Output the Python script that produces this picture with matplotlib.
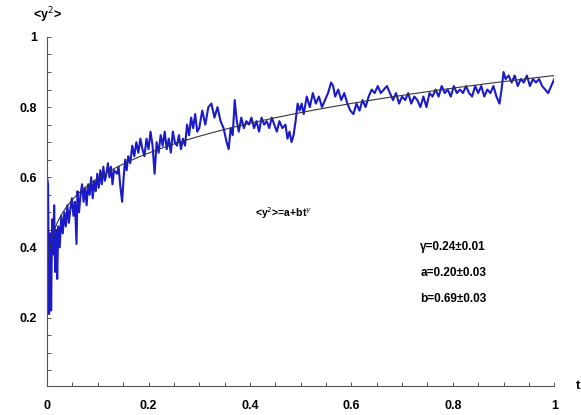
import matplotlib.pyplot as plt
import numpy as np
from matplotlib.ticker import MultipleLocator, FixedLocator

plt.rcParams['font.family'] = ['Liberation Sans', 'DejaVu Sans']

# noisy <y^2>(t)
t = [0.000, 0.002, 0.004, 0.006, 0.008, 0.010, 0.012, 0.014, 0.016, 0.018,
     0.020, 0.022, 0.025, 0.028, 0.031, 0.034, 0.037, 0.040, 0.043, 0.046,
     0.049, 0.052, 0.055, 0.058, 0.060, 0.063, 0.066, 0.069, 0.072, 0.075,
     0.078, 0.081, 0.084, 0.087, 0.090, 0.093, 0.096, 0.099, 0.102, 0.105,
     0.108, 0.111, 0.114, 0.117, 0.120, 0.123, 0.126, 0.129, 0.132, 0.138,
     0.141, 0.144, 0.148, 0.151, 0.154, 0.157, 0.160, 0.164, 0.168, 0.172,
     0.176, 0.180, 0.184, 0.188, 0.192, 0.196, 0.200, 0.204, 0.208, 0.212,
     0.216, 0.220, 0.224, 0.228, 0.232, 0.236, 0.240, 0.244, 0.248, 0.252,
     0.256, 0.260, 0.264, 0.268, 0.272, 0.276, 0.280, 0.284, 0.288, 0.292,
     0.296, 0.300, 0.306, 0.312, 0.318, 0.324, 0.330, 0.336, 0.342, 0.348,
     0.354, 0.358, 0.362, 0.366, 0.370, 0.374, 0.378, 0.383, 0.388, 0.393,
     0.398, 0.403, 0.408, 0.413, 0.418, 0.423, 0.428, 0.433, 0.438, 0.443,
     0.448, 0.453, 0.458, 0.464, 0.470, 0.474, 0.478, 0.482, 0.486, 0.490,
     0.494, 0.498, 0.502, 0.506, 0.512, 0.518, 0.524, 0.530, 0.536, 0.542,
     0.548, 0.554, 0.560, 0.564, 0.568, 0.574, 0.580, 0.586, 0.592, 0.598,
     0.604, 0.610, 0.616, 0.622, 0.628, 0.634, 0.640, 0.646, 0.652, 0.658,
     0.664, 0.670, 0.676, 0.682, 0.688, 0.694, 0.700, 0.706, 0.712, 0.718,
     0.724, 0.730, 0.736, 0.742, 0.748, 0.754, 0.760, 0.766, 0.772, 0.778,
     0.784, 0.790, 0.796, 0.802, 0.808, 0.814, 0.820, 0.826, 0.832, 0.838,
     0.844, 0.850, 0.856, 0.862, 0.868, 0.874, 0.880, 0.886, 0.892, 0.896,
     0.900, 0.904, 0.910, 0.916, 0.922, 0.928, 0.934, 0.940, 0.946, 0.952,
     0.958, 0.964, 0.970, 0.976, 0.982, 0.988, 0.994, 1.000, 1.004]
y2 = [0.60, 0.58, 0.21, 0.44, 0.22, 0.48, 0.38, 0.52, 0.33, 0.45,
      0.31, 0.46, 0.40, 0.49, 0.44, 0.50, 0.46, 0.52, 0.47, 0.51,
      0.54, 0.49, 0.53, 0.41, 0.56, 0.50, 0.55, 0.58, 0.53, 0.57,
      0.52, 0.58, 0.55, 0.60, 0.54, 0.59, 0.56, 0.61, 0.57, 0.62,
      0.58, 0.63, 0.59, 0.61, 0.64, 0.60, 0.63, 0.58, 0.62, 0.61,
      0.63, 0.58, 0.53, 0.60, 0.65, 0.62, 0.66, 0.64, 0.69, 0.66,
      0.70, 0.67, 0.71, 0.68, 0.66, 0.71, 0.68, 0.73, 0.69, 0.61,
      0.70, 0.67, 0.72, 0.69, 0.73, 0.68, 0.71, 0.67, 0.73, 0.70,
      0.69, 0.72, 0.68, 0.71, 0.69, 0.75, 0.72, 0.77, 0.74, 0.78,
      0.73, 0.74, 0.79, 0.75, 0.80, 0.81, 0.77, 0.80, 0.76, 0.74,
      0.70, 0.68, 0.74, 0.72, 0.82, 0.76, 0.73, 0.77, 0.74, 0.76,
      0.75, 0.77, 0.74, 0.76, 0.73, 0.77, 0.75, 0.76, 0.74, 0.77,
      0.75, 0.73, 0.76, 0.74, 0.75, 0.71, 0.73, 0.70, 0.72, 0.76,
      0.81, 0.79, 0.81, 0.78, 0.83, 0.80, 0.84, 0.81, 0.83, 0.80,
      0.82, 0.84, 0.87, 0.86, 0.83, 0.85, 0.82, 0.84, 0.81, 0.79,
      0.78, 0.81, 0.79, 0.82, 0.80, 0.83, 0.85, 0.84, 0.86, 0.84,
      0.85, 0.86, 0.84, 0.82, 0.84, 0.81, 0.83, 0.82, 0.84, 0.81,
      0.83, 0.82, 0.80, 0.83, 0.80, 0.84, 0.83, 0.85, 0.83, 0.86,
      0.84, 0.85, 0.83, 0.86, 0.84, 0.85, 0.84, 0.86, 0.84, 0.83,
      0.86, 0.84, 0.86, 0.83, 0.85, 0.84, 0.86, 0.83, 0.81, 0.85,
      0.90, 0.88, 0.89, 0.87, 0.89, 0.86, 0.88, 0.87, 0.89, 0.86,
      0.88, 0.87, 0.88, 0.86, 0.85, 0.84, 0.86, 0.88, 0.87]

# fit parameters shown on the chart
gamma, a, b = 0.24, 0.20, 0.69

fig = plt.figure(figsize=(5.81, 4.15), dpi=100)
ax = fig.add_axes([0.081, 0.070, 0.873, 0.841])

ax.plot(t, y2, color='#1a1ac8', linewidth=1.5)
tf = np.linspace(0.003, 1.0, 300)
ax.plot(tf, a + b * tf**gamma, color='#333344', linewidth=0.8)

ax.set_xlim(0, 1)
ax.set_ylim(0.005, 1.0)
for s in ['top', 'right']:
    ax.spines[s].set_visible(False)
for s in ['left', 'bottom']:
    ax.spines[s].set_color('#555555')
    ax.spines[s].set_linewidth(0.8)

ax.xaxis.set_major_locator(FixedLocator([0, 0.2, 0.4, 0.6, 0.8, 1.0]))
ax.yaxis.set_major_locator(FixedLocator([0.2, 0.4, 0.6, 0.8, 1.0]))
ax.xaxis.set_minor_locator(MultipleLocator(0.05))
ax.yaxis.set_minor_locator(MultipleLocator(0.05))
ax.set_xticklabels(['0', '0.2', '0.4', '0.6', '0.8', '1'])
ax.set_yticklabels(['0.2', '0.4', '0.6', '0.8', '1'])
ax.tick_params(which='both', direction='in', length=3, width=0.7, color='#555555',
               labelsize=9)
ax.tick_params(axis='x', pad=10)
ax.tick_params(axis='y', pad=7)
for lab in ax.get_xticklabels() + ax.get_yticklabels():
    lab.set_fontweight('bold')

ax.text(0.0, 1.063, r'<y$^2$>', transform=ax.transAxes, ha='center', va='center',
        fontsize=9, fontweight='bold')
ax.text(1.047, 0.0, 't', transform=ax.transAxes, ha='center', va='center',
        fontsize=9.5, fontweight='bold')

ax.text(0.41, 0.497, r'<y$^2$>=a+bt$^{\gamma}$', fontsize=7.5, fontweight='bold',
        va='center')
ax.text(0.736, 0.40, '\u03b3=0.24\u00b10.01', fontsize=8.5, fontweight='bold', va='center')
ax.text(0.736, 0.327, 'a=0.20\u00b10.03', fontsize=8.5, fontweight='bold', va='center')
ax.text(0.736, 0.252, 'b=0.69\u00b10.03', fontsize=8.5, fontweight='bold', va='center')

fig.savefig('out.png', dpi=100)
